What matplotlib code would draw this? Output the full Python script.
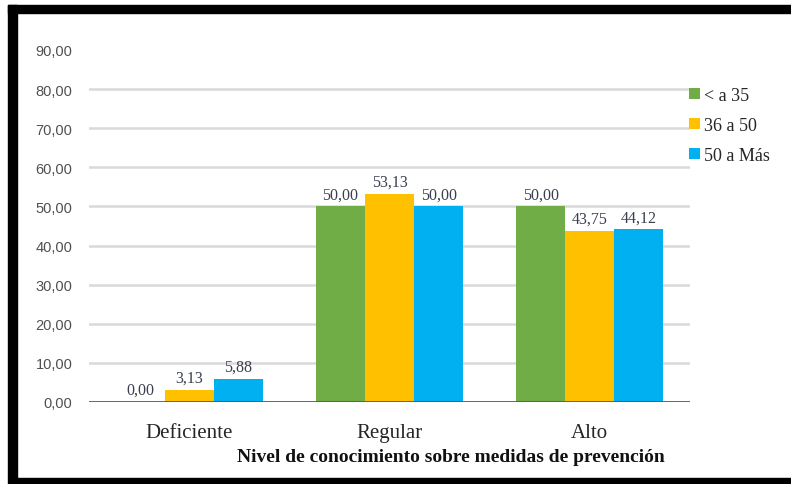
import matplotlib
matplotlib.use("Agg")
import matplotlib.pyplot as plt
from matplotlib.patches import Rectangle
import numpy as np

categories = ["Deficiente", "Regular", "Alto"]
series_names = ["< a 35", "36 a 50", "50 a Más"]
series_values = [
    [0.00, 50.00, 50.00],
    [3.13, 53.13, 43.75],
    [5.88, 50.00, 44.12],
]
colors = ["#70AD47", "#FFC000", "#00B0F0"]
y_ticks = [0, 10, 20, 30, 40, 50, 60, 70, 80, 90]
x_title = "Nivel de conocimiento sobre medidas de prevención"

W, H = 791, 485
fig = plt.figure(figsize=(W / 100, H / 100), dpi=100)
fig.patch.set_facecolor("white")

ax = fig.add_axes([89 / W, (H - 403) / H, (690 - 89) / W, (403 - 51) / H])
ax.set_xlim(-0.5, len(categories) - 0.5)
ax.set_ylim(0, 90)

# horizontal gridlines (none at the top of the scale)
for t in y_ticks[1:-1]:
    ax.axhline(t, color="#D9D9D9", lw=1.8, zorder=0)

serif = "Liberation Serif"
bar_w = 0.245
x = np.arange(len(categories))
for i, (name, vals, col) in enumerate(zip(series_names, series_values, colors)):
    pos = x + (i - 1) * bar_w
    bars = ax.bar(pos, vals, width=bar_w, color=col, label=name, zorder=2)
    for b, v in zip(bars, vals):
        ax.annotate(f"{v:.2f}".replace(".", ","),
                    (b.get_x() + b.get_width() / 2, v),
                    xytext=(0, 3), textcoords="offset points",
                    ha="center", va="bottom", fontsize=11.5,
                    family=serif, color="#3A3F4F", zorder=3)

# baseline
ax.axhline(0, color="#595959", lw=2.0, zorder=3)

for s in ax.spines.values():
    s.set_visible(False)

ax.set_yticks(y_ticks)
ax.set_yticklabels([f"{t:.2f}".replace(".", ",") for t in y_ticks],
                   family="Liberation Sans", fontsize=10.5, color="#505050")
ax.tick_params(axis="y", length=0, pad=12)
ax.set_xticks(x)
ax.set_xticklabels(categories, family=serif, fontsize=15, color="#262626")
ax.tick_params(axis="x", length=0, pad=15)

fig.text(451 / W, 1 - 458 / H, x_title, ha="center", va="center",
         family=serif, fontweight="bold", fontsize=14, color="#111111")

leg = ax.legend(loc="upper left", bbox_to_anchor=(689 / W, 1 - 88 / H),
                bbox_transform=fig.transFigure, frameon=False,
                prop={"family": serif, "size": 13},
                handlelength=0.6, handleheight=0.6, handletextpad=0.25,
                labelspacing=0.72, borderaxespad=0, borderpad=0,
                labelcolor="#262626")

# black frame on left, top and bottom edges
frame = [(8, 6, 9, 473), (8, 6, W - 8, 8), (8, 479, W - 8, 6)]
for fx, fy, fw, fh in frame:
    fig.patches.append(Rectangle((fx / W, 1 - (fy + fh) / H), fw / W, fh / H,
                                 transform=fig.transFigure, color="black",
                                 zorder=10))

fig.savefig("out.png", dpi=100)
